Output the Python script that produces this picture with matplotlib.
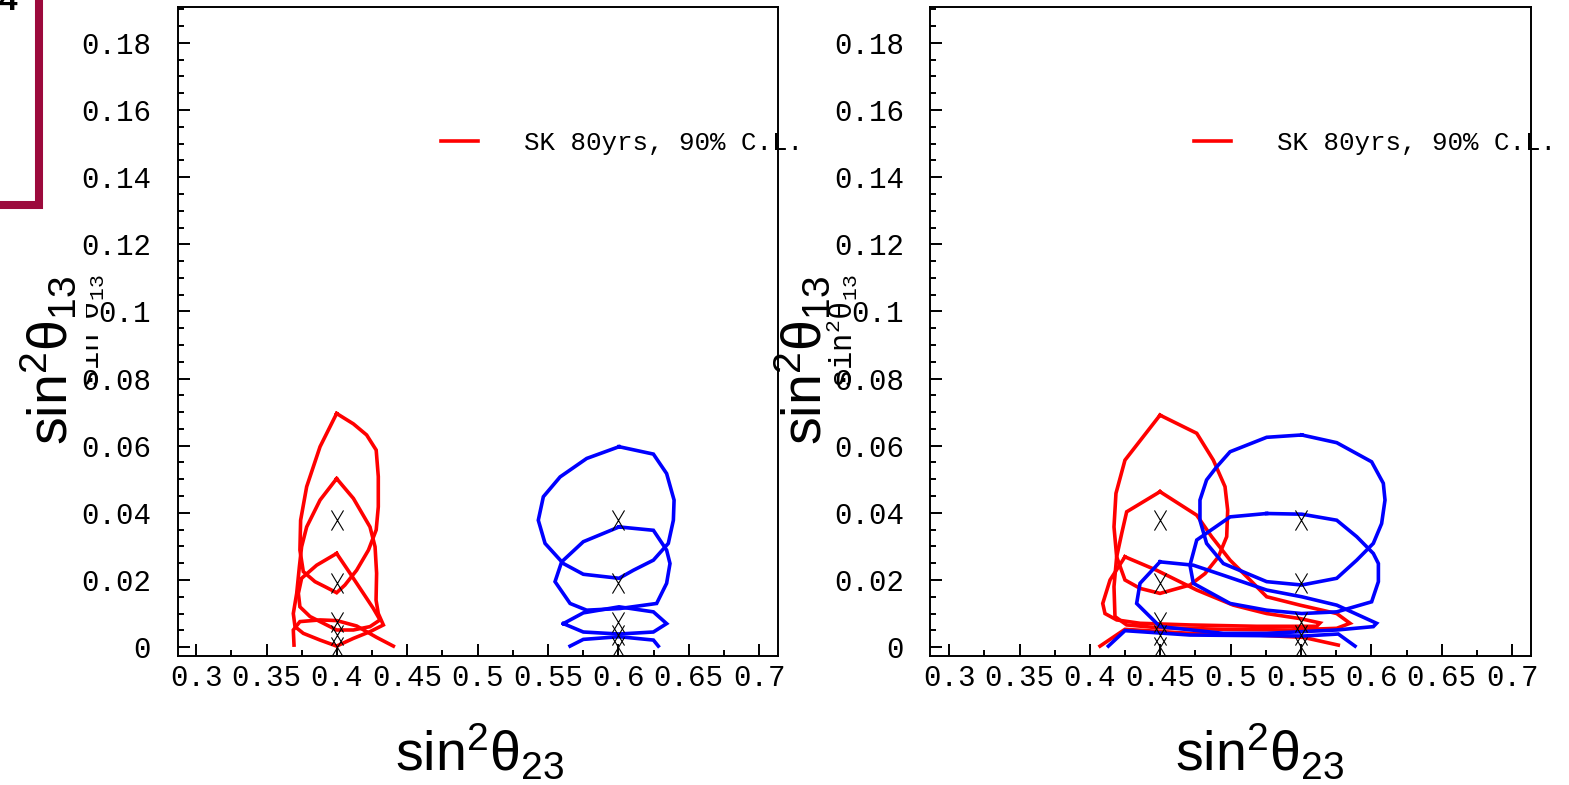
import matplotlib
matplotlib.use("Agg")
import matplotlib.pyplot as plt
import numpy as np
from matplotlib.path import Path
from matplotlib.patches import Rectangle
from matplotlib.lines import Line2D
from matplotlib.transforms import Bbox, TransformedBbox
from matplotlib.ticker import MultipleLocator, FuncFormatter

plt.rcParams['font.family'] = ['Liberation Mono', 'DejaVu Sans Mono']

# true sin^2(theta13) values of the test points
true_s13 = [0.038, 0.019, 0.0076, 0.0037, 0.0]
# sin^2(theta23) of the test points: (red, blue)
left_s23 = [0.40, 0.60]
right_s23 = [0.45, 0.55]

legend_label = 'SK 80yrs, 90% C.L.'
xticks = [0.3, 0.35, 0.4, 0.45, 0.5, 0.55, 0.6, 0.65, 0.7]
yticks = [0, 0.02, 0.04, 0.06, 0.08, 0.1, 0.12, 0.14, 0.16, 0.18]

# 90% C.L. contours, columns = (sin^2 t23, sin^2 t13)
# left panel, red (s23 = 0.4)
left_red_a = np.array([
    (0.3998, 0.0696), (0.4117, 0.0665), (0.4211, 0.0632), (0.4279, 0.0587),
    (0.4294, 0.0508), (0.4294, 0.0418), (0.4279, 0.0349), (0.4224, 0.0289),
    (0.4140, 0.0229), (0.4057, 0.0185), (0.3998, 0.0162), (0.3915, 0.0180),
    (0.3844, 0.0195), (0.3761, 0.0225), (0.3737, 0.0289), (0.3742, 0.0378),
    (0.3785, 0.0478), (0.3880, 0.0597)])
left_red_b = np.array([
    (0.3998, 0.0502), (0.4117, 0.0443), (0.4235, 0.0358), (0.4271, 0.0299),
    (0.4282, 0.0220), (0.4278, 0.0140), (0.4294, 0.0100), (0.4330, 0.0066),
    (0.4235, 0.0046), (0.4117, 0.0026), (0.3998, 0.0003), (0.3880, 0.0021),
    (0.3761, 0.0041), (0.3702, 0.0061), (0.3690, 0.0100), (0.3714, 0.0160),
    (0.3733, 0.0239), (0.3749, 0.0299), (0.3785, 0.0358), (0.3880, 0.0438)])
left_red_c = np.array([
    (0.3998, 0.0279), (0.4093, 0.0220), (0.4188, 0.0160), (0.4259, 0.0115),
    (0.4306, 0.0081), (0.4235, 0.0061), (0.4117, 0.0051), (0.3998, 0.0051),
    (0.3809, 0.0091), (0.3737, 0.0120), (0.3726, 0.0160), (0.3749, 0.0205),
    (0.3856, 0.0244)])
left_red_d = np.array([  # open
    (0.3695, 0.0006), (0.3690, 0.0051), (0.3737, 0.0076), (0.3880, 0.0081),
    (0.3998, 0.0079), (0.4140, 0.0063), (0.4282, 0.0029), (0.4401, 0.0003)])

# left panel, blue (s23 = 0.6)
left_blue_a = np.array([
    (0.6005, 0.0597), (0.6249, 0.0575), (0.6343, 0.0517), (0.6396, 0.0438),
    (0.6391, 0.0378), (0.6355, 0.0309), (0.6249, 0.0259), (0.6107, 0.0229),
    (0.6005, 0.0205), (0.5751, 0.0217), (0.5609, 0.0249), (0.5479, 0.0309),
    (0.5431, 0.0378), (0.5467, 0.0448), (0.5586, 0.0507), (0.5775, 0.0562)])
left_blue_b = np.array([
    (0.6005, 0.0358), (0.6249, 0.0348), (0.6343, 0.0289), (0.6367, 0.0249),
    (0.6343, 0.0190), (0.6272, 0.0130), (0.6012, 0.0115), (0.5775, 0.0110),
    (0.5657, 0.0130), (0.5550, 0.0195), (0.5597, 0.0254), (0.5751, 0.0314)])
left_blue_c = np.array([
    (0.5609, 0.0070), (0.5751, 0.0102), (0.6005, 0.0120), (0.6249, 0.0105),
    (0.6343, 0.0070), (0.6249, 0.0045), (0.6005, 0.0039), (0.5751, 0.0045)])
left_blue_d = np.array([  # open
    (0.5657, 0.0003), (0.5751, 0.0023), (0.6005, 0.0031), (0.6249, 0.0021),
    (0.6284, 0.0003)])

# right panel, red (s23 = 0.45)
right_red_a = np.array([
    (0.4498, 0.0691), (0.4759, 0.0637), (0.4877, 0.0557), (0.4960, 0.0478),
    (0.4979, 0.0408), (0.4972, 0.0329), (0.4913, 0.0269), (0.4818, 0.0219),
    (0.4711, 0.0185), (0.4498, 0.0160), (0.4356, 0.0175), (0.4249, 0.0200),
    (0.4190, 0.0269), (0.4171, 0.0358), (0.4185, 0.0458), (0.4249, 0.0557)])
right_red_b = np.array([
    (0.4498, 0.0463), (0.4759, 0.0393), (0.4865, 0.0329), (0.4996, 0.0259),
    (0.5138, 0.0200), (0.5256, 0.0150), (0.5493, 0.0125), (0.5754, 0.0100),
    (0.5848, 0.0071), (0.5754, 0.0056), (0.5422, 0.0051), (0.4948, 0.0053),
    (0.4474, 0.0058), (0.4261, 0.0066), (0.4178, 0.0091), (0.4171, 0.0180),
    (0.4190, 0.0269), (0.4226, 0.0339), (0.4261, 0.0403)])
right_red_c = np.array([
    (0.4249, 0.0269), (0.4474, 0.0229), (0.4759, 0.0170), (0.5019, 0.0125),
    (0.5256, 0.0100), (0.5493, 0.0085), (0.5635, 0.0072), (0.5611, 0.0062),
    (0.5185, 0.0062), (0.4711, 0.0066), (0.4356, 0.0071), (0.4190, 0.0081),
    (0.4107, 0.0100), (0.4091, 0.0130), (0.4143, 0.0200)])
right_red_d = np.array([  # open
    (0.4072, 0.0003), (0.4249, 0.0053), (0.4711, 0.0041), (0.5185, 0.0036),
    (0.5517, 0.0029), (0.5765, 0.0006)])

# right panel, blue (s23 = 0.55)
right_blue_a = np.array([
    (0.5505, 0.0632), (0.5754, 0.0609), (0.6002, 0.0552), (0.6085, 0.0488),
    (0.6097, 0.0438), (0.6073, 0.0368), (0.6014, 0.0309), (0.5896, 0.0259),
    (0.5754, 0.0205), (0.5505, 0.0185), (0.5256, 0.0195), (0.4948, 0.0249),
    (0.4829, 0.0309), (0.4782, 0.0378), (0.4782, 0.0438), (0.4829, 0.0498),
    (0.4901, 0.0537), (0.4996, 0.0582), (0.5256, 0.0625)])
right_blue_b = np.array([
    (0.5256, 0.0398), (0.5505, 0.0396), (0.5754, 0.0378), (0.5896, 0.0329),
    (0.6014, 0.0279), (0.6050, 0.0249), (0.6050, 0.0195), (0.6002, 0.0135),
    (0.5754, 0.0105), (0.5505, 0.0100), (0.5256, 0.0110), (0.4996, 0.0130),
    (0.4735, 0.0190), (0.4711, 0.0244), (0.4759, 0.0319), (0.4996, 0.0388)])
right_blue_c = np.array([
    (0.4498, 0.0254), (0.4735, 0.0244), (0.4948, 0.0214), (0.5256, 0.0170),
    (0.5505, 0.0150), (0.5754, 0.0125), (0.6037, 0.0071), (0.6014, 0.0061),
    (0.5754, 0.0051), (0.5505, 0.0046), (0.5256, 0.0041), (0.4948, 0.0041),
    (0.4498, 0.0061), (0.4332, 0.0130), (0.4356, 0.0190)])
right_blue_d = np.array([  # open
    (0.4131, 0.0003), (0.4249, 0.0049), (0.4711, 0.0036), (0.5517, 0.0033),
    (0.5765, 0.0039), (0.5884, 0.0003)])

# tall thin "x" used for the true points
xmark = Path([(-0.3, -0.5), (0.3, 0.5), (-0.3, 0.5), (0.3, -0.5)],
             [Path.MOVETO, Path.LINETO, Path.MOVETO, Path.LINETO])

W, H = 1569, 785
fig = plt.figure(figsize=(W / 100, H / 100), dpi=100)


def draw_line(ax, pts, color, closed=True):
    if closed:
        pts = np.vstack([pts, pts[:1]])
    ax.plot(pts[:, 0], pts[:, 1], color=color, lw=2.6, solid_joinstyle='miter', zorder=2)


def panel(left_px, reds, blues, s23):
    ax = fig.add_axes([left_px / W, 1 - 655.5 / H, 600 / W, 648.2 / H])
    for i, c in enumerate(reds):
        draw_line(ax, c, '#ff0000', closed=(i < len(reds) - 1))
    for i, c in enumerate(blues):
        draw_line(ax, c, '#0000ff', closed=(i < len(blues) - 1))
    for x in s23:
        ax.plot([x] * len(true_s13), true_s13, ls='none', marker=xmark,
                ms=14.5, mec='black', mew=0.8, zorder=3)
    ax.set_xlim(0.2867, 0.7131)
    ax.set_ylim(-0.0025, 0.1906)
    ax.set_xticks(xticks)
    ax.set_yticks(yticks)
    ax.xaxis.set_minor_locator(MultipleLocator(0.025))
    ax.yaxis.set_minor_locator(MultipleLocator(0.005))
    fmt = FuncFormatter(lambda v, p: '%g' % round(v, 3))
    ax.xaxis.set_major_formatter(fmt)
    ax.yaxis.set_major_formatter(fmt)
    ax.tick_params(which='both', direction='in', top=False, right=False,
                   width=1.4, labelsize=21, colors='black')
    ax.tick_params(which='major', length=8.8)
    ax.tick_params(which='minor', length=4.6)
    ax.tick_params(axis='x', pad=6)
    ax.tick_params(axis='y', pad=19)
    for s in ax.spines.values():
        s.set_linewidth(1.4)
    h = Line2D([], [], color='#ff0000', lw=2.6)
    ax.legend([h], [legend_label], loc='center left', bbox_to_anchor=(0.439, 0.7906),
              frameon=False, fontsize=18.6, handlelength=1.43, handletextpad=1.8,
              borderpad=0, borderaxespad=0)
    # small ROOT style axis title
    t = ax.text(-0.147, 0.5, r'$\mathregular{sin^2θ_{13}}$', transform=ax.transAxes,
                rotation=90, ha='center', va='center', fontsize=22)
    return ax, t


ax1, t1 = panel(177.5, [left_red_a, left_red_b, left_red_c, left_red_d],
                [left_blue_a, left_blue_b, left_blue_c, left_blue_d], left_s23)
ax2, t2 = panel(930.5, [right_red_a, right_red_b, right_red_c, right_red_d],
                [right_blue_a, right_blue_b, right_blue_c, right_blue_d], right_s23)

# on the slide the left small title is half hidden behind the big one
t1.set_clip_box(TransformedBbox(Bbox([[86 / W, 0], [1, 1]]), fig.transFigure))
t1.set_clip_on(True)

big = dict(family=['Liberation Sans', 'DejaVu Sans'], fontsize=40, zorder=3)
fig.text(480 / W, 15 / H, r'$\mathregular{sin^2θ_{23}}$', ha='center', va='baseline', **big)
fig.text(1260 / W, 15 / H, r'$\mathregular{sin^2θ_{23}}$', ha='center', va='baseline', **big)
fig.text(50 / W, 1 - 360 / H, r'$\mathregular{sin^2θ_{13}}$', rotation=90,
         ha='center', va='center', **big)
fig.text(803 / W, 1 - 360 / H, r'$\mathregular{sin^2θ_{13}}$', rotation=90,
         ha='center', va='center', **big)

# slide decoration in the top left corner
fig.add_artist(Rectangle((-0.05, 1 - 204.5 / H), 0.05 + 38.5 / W, 0.4,
                         transform=fig.transFigure, fill=False,
                         edgecolor='#9c0a3c', linewidth=5.8, zorder=4))
fig.text(8 / W, 1 - 10 / H, '4', ha='center', va='baseline', fontsize=24,
         fontweight='bold', family='Liberation Sans', zorder=4)

fig.savefig('out.png', dpi=100)
